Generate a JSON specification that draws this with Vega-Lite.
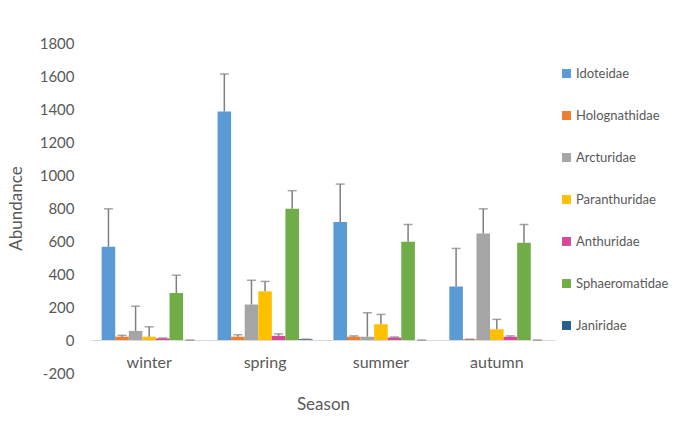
{
  "$schema": "https://vega.github.io/schema/vega-lite/v6.json",
  "width": 464,
  "height": 330,
  "autosize": "none",
  "padding": {"left": 91, "top": 43, "right": 123, "bottom": 48},
  "background": "white",
  "config": {"view": {"stroke": null}, "font": "Lato"},
  "resolve": {"axis": {"y": "independent"}},
  "data": {
    "values": [
      {"season": "winter", "family": "Idoteidae", "value": 565, "err": 795},
      {"season": "winter", "family": "Holognathidae", "value": 20, "err": 28},
      {"season": "winter", "family": "Arcturidae", "value": 55, "err": 205},
      {"season": "winter", "family": "Paranthuridae", "value": 20, "err": 80},
      {"season": "winter", "family": "Anthuridae", "value": 10, "err": 12},
      {"season": "winter", "family": "Sphaeromatidae", "value": 285, "err": 393},
      {"season": "winter", "family": "Janiridae", "value": 0, "err": 0},
      {"season": "spring", "family": "Idoteidae", "value": 1385, "err": 1612},
      {"season": "spring", "family": "Holognathidae", "value": 20, "err": 32},
      {"season": "spring", "family": "Arcturidae", "value": 215, "err": 362},
      {"season": "spring", "family": "Paranthuridae", "value": 295, "err": 355},
      {"season": "spring", "family": "Anthuridae", "value": 25, "err": 37},
      {"season": "spring", "family": "Sphaeromatidae", "value": 795, "err": 905},
      {"season": "spring", "family": "Janiridae", "value": 5, "err": 5},
      {"season": "summer", "family": "Idoteidae", "value": 715, "err": 945},
      {"season": "summer", "family": "Holognathidae", "value": 20, "err": 25},
      {"season": "summer", "family": "Arcturidae", "value": 20, "err": 165},
      {"season": "summer", "family": "Paranthuridae", "value": 95, "err": 155},
      {"season": "summer", "family": "Anthuridae", "value": 15, "err": 18},
      {"season": "summer", "family": "Sphaeromatidae", "value": 595, "err": 700},
      {"season": "summer", "family": "Janiridae", "value": 0, "err": 0},
      {"season": "autumn", "family": "Idoteidae", "value": 325, "err": 555},
      {"season": "autumn", "family": "Holognathidae", "value": 5, "err": 5},
      {"season": "autumn", "family": "Arcturidae", "value": 645, "err": 795},
      {"season": "autumn", "family": "Paranthuridae", "value": 65, "err": 125},
      {"season": "autumn", "family": "Anthuridae", "value": 20, "err": 25},
      {"season": "autumn", "family": "Sphaeromatidae", "value": 590, "err": 700},
      {"season": "autumn", "family": "Janiridae", "value": 0, "err": 0}
    ]
  },
  "encoding": {
    "x": {
      "field": "season", "type": "nominal", "sort": ["winter", "spring", "summer", "autumn"],
      "scale": {"paddingInner": 0.18, "paddingOuter": 0.092},
      "axis": {"title": "Season", "labelAngle": 0, "offset": -33, "domainColor": "#d9d9d9", "ticks": false,
        "labelFontSize": 16, "labelColor": "#595959", "labelPadding": 14,
        "titleFontSize": 17, "titleColor": "#595959", "titlePadding": 26, "titleFontWeight": "normal"}
    },
    "xOffset": {"field": "family", "type": "nominal",
      "sort": ["Idoteidae", "Holognathidae", "Arcturidae", "Paranthuridae", "Anthuridae", "Sphaeromatidae", "Janiridae"],
      "scale": {"paddingInner": 0}}
  },
  "layer": [
    {
      "mark": {"type": "bar"},
      "encoding": {
        "y": {"field": "value", "type": "quantitative",
          "scale": {"domain": [-200, 1800], "nice": false, "zero": false},
          "axis": {"title": "Abundance", "values": [-200, 0, 200, 400, 600, 800, 1000, 1200, 1400, 1600, 1800],
            "labelExpr": "'' + datum.value", "labelOverlap": false, "labelFlush": false,
            "grid": false, "domain": false, "ticks": false, "labelFontSize": 15, "labelColor": "#595959", "labelPadding": 17,
            "titleFontSize": 17, "titleColor": "#595959", "titlePadding": 14, "titleFontWeight": "normal"}},
        "color": {"field": "family", "type": "nominal",
          "sort": ["Idoteidae", "Holognathidae", "Arcturidae", "Paranthuridae", "Anthuridae", "Sphaeromatidae", "Janiridae"],
          "scale": {"domain": ["Idoteidae", "Holognathidae", "Arcturidae", "Paranthuridae", "Anthuridae", "Sphaeromatidae", "Janiridae"],
            "range": ["#5B9BD5", "#ED7D31", "#A5A5A5", "#FFC000", "#D9479B", "#70AD47", "#255E91"]},
          "legend": {"title": null, "orient": "none", "legendX": 469, "legendY": 24, "symbolType": "square",
            "symbolSize": 80, "symbolStrokeWidth": 0, "labelFontSize": 13, "labelColor": "#595959", "rowPadding": 28, "labelOffset": 3}}
      }
    },
    {
      "mark": {"type": "rule", "color": "#7f7f7f", "strokeWidth": 1.5},
      "encoding": {"y": {"field": "value", "type": "quantitative", "axis": null}, "y2": {"field": "err"}}
    },
    {
      "mark": {"type": "tick", "color": "#7f7f7f", "thickness": 1.5, "size": 9},
      "encoding": {"y": {"field": "err", "type": "quantitative", "axis": null}}
    }
  ]
}
